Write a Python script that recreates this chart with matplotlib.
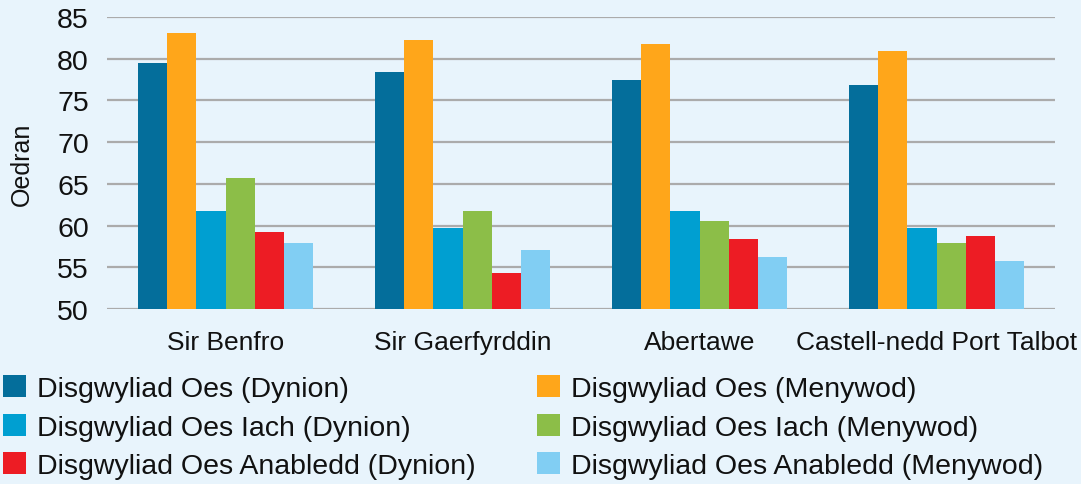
import numpy as np
import matplotlib
matplotlib.use("Agg")
import matplotlib.pyplot as plt

plt.rcParams['font.family'] = ['Liberation Sans', 'DejaVu Sans']

# ---------------------------
# Data
# ---------------------------
areas = ['Sir Benfro', 'Sir Gaerfyrddin', 'Abertawe', 'Castell-nedd Port Talbot']

oes_dynion = [79.5, 78.4, 77.5, 76.9]
oes_menywod = [83.1, 82.3, 81.8, 80.9]
iach_dynion = [61.7, 59.7, 61.8, 59.7]
iach_menywod = [65.7, 61.7, 60.5, 57.9]
anabledd_dynion = [59.2, 54.3, 58.4, 58.7]
anabledd_menywod = [57.9, 57.1, 56.2, 55.8]

series_labels = ['Disgwyliad Oes (Dynion)', 'Disgwyliad Oes (Menywod)',
                 'Disgwyliad Oes Iach (Dynion)', 'Disgwyliad Oes Iach (Menywod)',
                 'Disgwyliad Oes Anabledd (Dynion)', 'Disgwyliad Oes Anabledd (Menywod)']
series = [oes_dynion, oes_menywod, iach_dynion, iach_menywod,
          anabledd_dynion, anabledd_menywod]
colors = ['#046E9B', '#FFA61A', '#009FD1', '#8CBE48', '#ED1C24', '#81CEF3']

bg = '#E8F4FC'
fs = 20.5

#---------------------------
# Figure
#---------------------------
fig = plt.figure(figsize=(10.81, 4.85), dpi=100, facecolor=bg)
ax = fig.add_axes([107/1081, 175/485, 948/1081, 292/485])
ax.set_facecolor(bg)

x = np.arange(len(areas))
w = 0.1225
bars = []
for i, (vals, c, lab) in enumerate(zip(series, colors, series_labels)):
    b = ax.bar(x + (i - 2.5) * w, np.array(vals) - 50, bottom=50, width=w,
               color=c, label=lab, zorder=3)
    bars.append(b)

ax.set_xlim(-0.5, len(areas) - 0.5)
ax.set_ylim(50, 85)
ax.set_yticks(range(50, 86, 5))
ax.grid(axis='y', color='#ABABAB', linewidth=1.6, zorder=0)
ax.set_axisbelow(True)
for s in ax.spines.values():
    s.set_visible(False)
ax.tick_params(axis='both', length=0, colors='#111111')
ax.tick_params(axis='y', pad=13, labelsize=fs)
ax.tick_params(axis='x', pad=15, labelsize=19)
ax.set_xticks(x)
ax.set_xticklabels(areas)
ax.set_ylabel('Oedran', fontsize=18, color='#111111', labelpad=17)

# two legend columns placed separately
kw = dict(frameon=False, fontsize=fs, handlelength=0.8, handleheight=0.8,
          handletextpad=0.4, labelspacing=0.42, borderpad=0, borderaxespad=0,
          loc='upper left')
leg1 = fig.legend([bars[0], bars[2], bars[4]],
                  [series_labels[0], series_labels[2], series_labels[4]],
                  bbox_to_anchor=(3/1081, 1 - 376/485), **kw)
leg2 = fig.legend([bars[1], bars[3], bars[5]],
                  [series_labels[1], series_labels[3], series_labels[5]],
                  bbox_to_anchor=(537/1081, 1 - 376/485), **kw)
for leg in (leg1, leg2):
    for t in leg.get_texts():
        t.set_color('#111111')

fig.savefig('out.png', dpi=100, facecolor=bg)
